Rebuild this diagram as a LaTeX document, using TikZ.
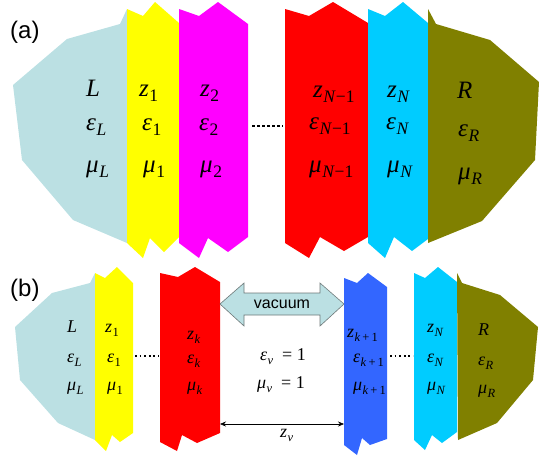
\documentclass[tikz,border=0pt]{standalone}
\usepackage{fontspec}
\newfontfamily\lsans{Liberation Sans}
\newfontfamily\tms{Liberation Serif}
\usetikzlibrary{arrows.meta}
\definecolor{lb}{RGB}{187,224,227}
\definecolor{ye}{RGB}{255,255,0}
\definecolor{mg}{RGB}{255,0,255}
\definecolor{rd}{RGB}{255,0,0}
\definecolor{cy}{RGB}{0,204,255}
\definecolor{ol}{RGB}{128,128,0}
\definecolor{bl}{RGB}{51,102,255}
\definecolor{ag}{RGB}{110,120,120}
% main symbol (italic) with subscript, panel (a) and panel (b) sizes
\newcommand\Va[2]{{\fontsize{25}{28}\selectfont\tms\itshape #1}\kern0.5pt\raisebox{-5.5pt}{\fontsize{17.5}{20}\selectfont\tms\upshape #2}}
\newcommand\Vb[2]{{\fontsize{18}{21}\selectfont\tms\itshape #1}\kern0.4pt\raisebox{-4pt}{\fontsize{12.5}{14}\selectfont\tms\upshape #2}}
\tikzset{
  laba/.style={anchor=base west, inner sep=0pt, font=\fontsize{25}{28}\selectfont\tms\itshape},
  labb/.style={anchor=base west, inner sep=0pt, font=\fontsize{18}{21}\selectfont\tms\itshape},
  panel/.style={anchor=west, inner sep=0pt, font=\lsans\fontsize{24}{28}\selectfont},
  dotsa/.style={line width=2.6pt, dash pattern=on 2.6pt off 2.4pt},
  dotsb/.style={line width=1.7pt, dash pattern=on 1.7pt off 2.9pt},
}
\begin{document}
\begin{tikzpicture}[x=1pt,y=-1pt]
\useasboundingbox (0,0) rectangle (553,458);
% ---------- panel (a)
\fill[lb] (127,9) -- (120,24) -- (67,39) -- (13,85) -- (22,160) -- (73,220) -- (127,243) -- cycle;
\fill[ye] (127,9) -- (143,16) -- (155,2) -- (179,23) -- (179,237) -- (164,252) -- (150,238) -- (143,258) -- (127,243) -- cycle;
\fill[mg] (179,9) -- (199,16) -- (218,2) -- (248,24) -- (248,237) -- (228,252) -- (208,238) -- (199,258) -- (179,243) -- cycle;
\fill[rd] (285,9) -- (309,16) -- (333,2) -- (368,23) -- (368,237) -- (344,251) -- (320,237) -- (309,258) -- (285,243) -- cycle;
\fill[cy] (368,9) -- (385,16) -- (403,2) -- (428,23) -- (428,239) -- (412,251) -- (394,237) -- (385,258) -- (368,243) -- cycle;
\fill[ol] (428,9) -- (436,24) -- (490,40) -- (539,82) -- (535,160) -- (482,221) -- (428,243) -- cycle;
\node[panel] (pa) at (10,32) {(a)};
\node[laba] (aL) at (86,96) {L};
\node[laba] (aeL) at (86,130) {\Va{ε}{\itshape L}};
\node[laba] (amL) at (86,172) {\Va{μ}{\itshape L}};
\node[laba] (az1) at (139,96) {\Va{z}{1}};
\node[laba] (ae1) at (142,130) {\Va{ε}{1}};
\node[laba] (am1) at (143,172) {\Va{μ}{1}};
\node[laba] (az2) at (200,96) {\Va{z}{2}};
\node[laba] (ae2) at (199,130) {\Va{ε}{2}};
\node[laba] (am2) at (200,172) {\Va{μ}{2}};
\node[laba] (azN1) at (313,97) {\Va{z}{\textit{N}−1}};
\node[laba] (aeN1) at (309,129) {\Va{ε}{\textit{N}−1}};
\node[laba] (amN1) at (309,172) {\Va{μ}{\textit{N}−1}};
\node[laba] (azN) at (387,97) {\Va{z}{\itshape N}};
\node[laba] (aeN) at (386,129) {\Va{ε}{\itshape N}};
\node[laba] (amN) at (387,172) {\Va{μ}{\itshape N}};
\node[laba] (aR) at (457,98) {R};
\node[laba] (aeR) at (458,136) {\Va{ε}{\itshape R}};
\node[laba] (amR) at (458,179) {\Va{μ}{\itshape R}};
\coordinate (ad1) at (252,126);
\coordinate (ad2) at (283,126);
\draw[dotsa] (ad1) -- (ad2);
% ---------- panel (b)
\fill[lb] (95,273) -- (90,283) -- (52,293) -- (15,327) -- (20,380) -- (58,423) -- (95,440) -- cycle;
\fill[ye] (95,273) -- (105,278) -- (117,267) -- (133,283) -- (133,433) -- (120,442) -- (112,435) -- (106,451) -- (95,440) -- cycle;
\fill[rd] (160,273) -- (178,277) -- (195,267) -- (220,282) -- (220,433) -- (197,443) -- (182,435) -- (177,451) -- (160,442) -- cycle;
\fill[bl] (344,278) -- (357,283) -- (368,273) -- (387,287) -- (387,439) -- (370,445) -- (362,438) -- (357,455) -- (344,445) -- cycle;
\fill[cy] (414,273) -- (425,278) -- (438,267) -- (457,282) -- (457,432) -- (442,443) -- (432,435) -- (425,450) -- (414,440) -- cycle;
\fill[ol] (457,273) -- (462,283) -- (500,295) -- (538,327) -- (533,380) -- (497,423) -- (458,440) -- cycle;
\node[panel] (pb) at (10,290) {(b)};
\node[labb] (bL) at (67,332) {L};
\node[labb] (beL) at (67,362) {\Vb{ε}{\itshape L}};
\node[labb] (bmL) at (67,390) {\Vb{μ}{\itshape L}};
\node[labb] (bz1) at (105,332) {\Vb{z}{1}};
\node[labb] (be1) at (107,362) {\Vb{ε}{1}};
\node[labb] (bm1) at (107,390) {\Vb{μ}{1}};
\node[labb] (bzk) at (187,339) {\Vb{z}{\itshape k}};
\node[labb] (bek) at (187,363) {\Vb{ε}{\itshape k}};
\node[labb] (bmk) at (187,390) {\Vb{μ}{\itshape k}};
\node[labb] (bev) at (260,360) {\Vb{ε}{\itshape v}\upshape\ \ =\ 1};
\node[labb] (bmv) at (257,388) {\Vb{μ}{\itshape v}\upshape\ \ =\ 1};
\node[labb] (bzk1) at (347,337) {\Vb{z}{\textit{k}\,+\,1}};
\node[labb] (bek1) at (353,362) {\Vb{ε}{\textit{k}\,+\,1}};
\node[labb] (bmk1) at (353,390) {\Vb{μ}{\textit{k}\,+\,1}};
\node[labb] (bzN) at (427,332) {\Vb{z}{\itshape N}};
\node[labb] (beN) at (427,362) {\Vb{ε}{\itshape N}};
\node[labb] (bmN) at (427,390) {\Vb{μ}{\itshape N}};
\node[labb] (bR) at (478,335) {R};
\node[labb] (beR) at (478,365) {\Vb{ε}{\itshape R}};
\node[labb] (bmR) at (478,393) {\Vb{μ}{\itshape R}};
\coordinate (bd1) at (135,356);
\coordinate (bd2) at (159,356);
\coordinate (bd3) at (390,356);
\coordinate (bd4) at (413,356);
\draw[dotsb] (bd1) -- (bd2);
\draw[dotsb] (bd3) -- (bd4);
% vacuum double arrow
\coordinate (vl) at (220,304);
\coordinate (vr) at (344,304);
\filldraw[fill=lb, draw=ag, line width=0.6pt] (vl) -- (244,283) -- (244,293) -- (320,293) -- (320,283) -- (vr) -- (320,326) -- (320,315) -- (244,315) -- (244,326) -- cycle;
\node[inner sep=0pt, font=\lsans\fontsize{16}{18}\selectfont] (vac) at (282,304) {vacuum};
% z_v arrow
\coordinate (zl) at (220,424);
\coordinate (zr) at (344,424);
\draw[line width=0.6pt, {Stealth[length=6pt,width=5pt,inset=2pt]}-{Stealth[length=6pt,width=5pt,inset=2pt]}] (zl) -- (zr);
\node[labb] (zv) at (280,437) {\Vb{z}{\itshape v}};
\end{tikzpicture}
\end{document}
